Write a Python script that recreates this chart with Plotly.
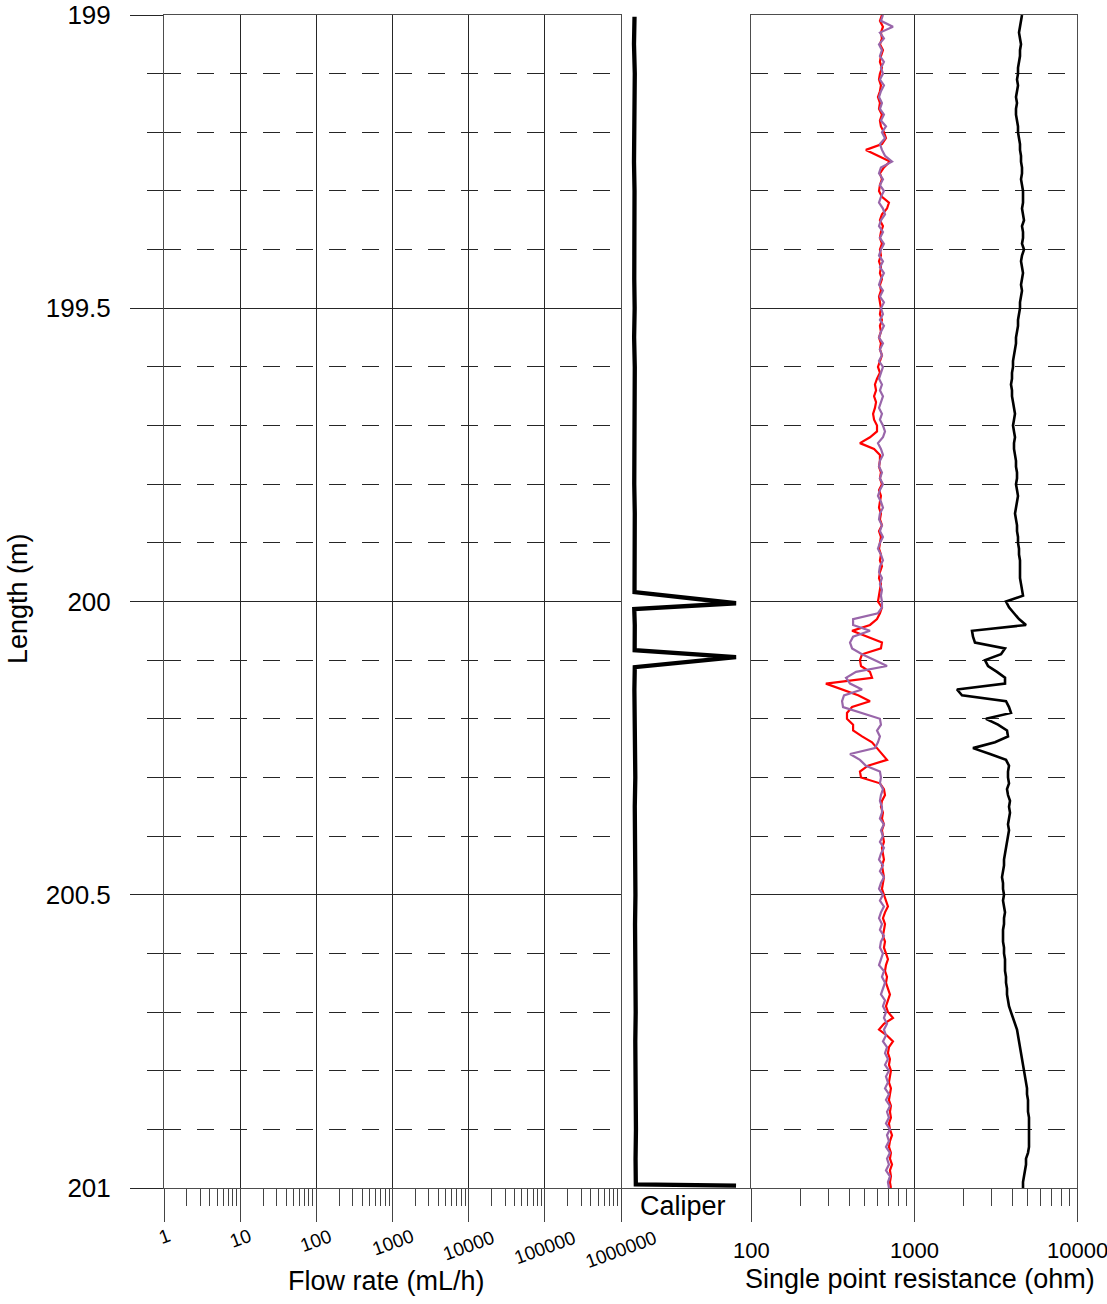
import numpy as np
import plotly.graph_objects as go

# ---------------------------------------------------------------
# Borehole log section 199-201 m: flow rate (empty track), caliper,
# and single point resistance (SPR) logs.
# ---------------------------------------------------------------

# SPR logs are sampled every 1 cm starting at 199.00 m
DEPTH_TOP = 199.0
DEPTH_STEP = 0.01

# Single point resistance, red run (ohm)
spr_red = [
    636, 618, 645, 627, 636, 618, 645, 627, 618, 636,
    618, 610, 627, 618, 601, 618, 610, 636, 618, 627,
    654, 673, 636, 507, 601, 712, 654, 618, 636, 618,
    610, 636, 702, 683, 636, 618, 645, 627, 618, 636,
    618, 627, 610, 627, 618, 636, 618, 627, 610, 618,
    627,
    618, 636, 618, 627, 610, 627, 618, 636, 618, 601,
    618, 593, 576, 585, 569, 585, 576, 561, 569, 593,
    593, 537, 466, 569, 618, 618, 610, 627, 618, 636,
    610, 627, 618, 610, 627, 618, 636, 610, 627, 618,
    610, 627, 618, 636, 618, 610, 627, 618, 610,
    601, 636, 618, 593, 537, 417, 522, 636, 627, 480,
    466, 473, 537, 553, 288, 367, 454, 537, 417, 388,
    388, 423, 423, 480, 553, 593, 636, 683, 522, 466,
    473, 618, 654, 664, 636, 627,
    645, 636, 654, 636, 645, 654, 636, 645, 654, 636,
    645, 654, 645, 636, 654, 673, 692, 664, 645, 664,
    654, 645, 664, 654, 673, 692, 673, 664, 683, 673,
    692, 712, 692, 673, 692, 743, 654, 610, 683, 743,
    702, 692, 712, 702, 722, 712, 702, 722, 712, 702,
    722, 712, 722, 702, 712, 733, 712, 702, 722, 712,
    733, 712, 722, 712, 722,
]

# Single point resistance, purple run (ohm)
spr_purple = [
    645, 627, 743, 618, 654, 610, 636, 618, 654, 627,
    645, 618, 654, 627, 610, 636, 618, 654, 627, 673,
    636, 664, 618, 636, 664, 733, 627, 610, 645, 618,
    654, 627, 610, 645, 664, 627, 610, 645, 618, 654,
    627, 610, 645, 618, 654, 627, 610, 645, 618, 654,
    627,
    645, 618, 654, 627, 610, 645, 618, 636, 610, 645,
    627, 610, 636, 618, 645, 627, 610, 636, 618, 645,
    664, 645, 601, 627, 645, 618, 610, 636, 618, 645,
    618, 601, 627, 645, 618, 610, 636, 618, 645, 618,
    601, 627, 645, 618, 610, 636, 618, 636, 627,
    636, 636, 601, 423, 423, 537, 423, 405, 417, 480,
    576, 683, 441, 383, 405, 480, 372, 362, 367, 480,
    618, 627, 593, 618, 601, 576, 405, 466, 507, 618,
    627, 618, 645, 627, 618, 636,
    636, 618, 654, 627, 645, 618, 654, 627, 610, 645,
    618, 654, 627, 610, 645, 618, 654, 627, 610, 636,
    618, 654, 627, 618, 645, 627, 610, 654, 636, 664,
    645, 627, 664, 645, 673, 654, 683, 654, 673, 645,
    683, 664, 692, 664, 702, 673, 692, 664, 702, 673,
    712, 683, 702, 673, 712, 683, 702, 673, 712, 683,
    702, 673, 712, 692, 702,
]

# Single point resistance, black run (ohm)
spr_black = [
    4598, 4534, 4470, 4407, 4470, 4534, 4470, 4470, 4407, 4346,
    4346, 4285, 4346, 4285, 4224, 4285, 4224, 4224, 4285, 4346,
    4346, 4407, 4470, 4470, 4534, 4534, 4598, 4598, 4534, 4598,
    4664, 4664, 4664, 4598, 4664, 4730, 4598, 4664, 4664, 4598,
    4730, 4598, 4534, 4598, 4664, 4598, 4534, 4598, 4534, 4470,
    4470, 4407, 4346, 4346, 4285, 4224, 4224, 4165, 4107, 4049,
    4049, 3992, 3992, 3936, 3992, 3992, 4049, 4107, 4165, 4107,
    4049, 4107, 4165, 4107, 4107, 4165, 4224, 4224, 4285, 4285,
    4224, 4285, 4346, 4285, 4224, 4165, 4224, 4285, 4285, 4346,
    4346, 4407, 4407, 4470, 4470, 4470,
    4470, 4534, 4598, 4664, 3668, 3827, 4107, 4407, 4866, 2269,
    2301, 2367, 3617, 3418, 2727, 2846, 3230, 3617, 3617, 1836,
    1970, 3668, 3827, 3936, 2766, 3276, 3720, 3773, 3140, 2301,
    2927, 3668, 3827, 3773, 3773, 3827, 3720, 3773, 3881, 3827,
    3881, 3827, 3773, 3827, 3773, 3720, 3668, 3617, 3566, 3566,
    3516, 3467, 3516, 3516, 3566, 3516, 3566, 3617, 3566, 3566,
    3516, 3516, 3516, 3566, 3566, 3617, 3617, 3617, 3668, 3668,
    3720, 3720, 3773, 3827, 3936, 4049, 4165, 4285, 4346, 4407,
    4470, 4534, 4598, 4664, 4730, 4797, 4866, 4935, 4935, 5005,
    5005, 5005, 5076, 5076, 5076, 5076, 5076, 5076, 5005, 4866,
    4866, 4797, 4730, 4664, 4664,
]

depth = np.round(DEPTH_TOP + DEPTH_STEP * np.arange(len(spr_red)), 3)

# Caliper log (relative track units 0-100)
caliper_depth = [
    199.003, 199.05, 199.10, 199.15, 199.20, 199.25, 199.30, 199.35,
    199.40, 199.45, 199.50, 199.55, 199.60, 199.65, 199.70, 199.75,
    199.80, 199.85, 199.90, 199.95, 199.984, 200.003, 200.013, 200.04,
    200.06, 200.083, 200.095, 200.112, 200.15, 200.20, 200.25, 200.30,
    200.35, 200.40, 200.45, 200.50, 200.55, 200.60, 200.65, 200.70,
    200.75, 200.80, 200.85, 200.90, 200.95, 200.994, 200.996,
]
caliper_value = [
    10.4, 10.0, 10.6, 10.2, 10.5, 10.0, 10.4, 10.1,
    10.6, 10.2, 10.5, 10.1, 10.6, 10.3, 10.0, 10.5,
    10.2, 10.6, 10.3, 10.5, 10.4, 88.5, 10.2, 10.6,
    10.3, 10.5, 88.5, 10.6, 10.3, 10.8, 10.5, 11.0,
    10.6, 11.0, 10.7, 11.1, 10.8, 11.2, 10.9, 11.3,
    11.0, 11.4, 11.1, 11.5, 11.2, 11.4, 88.5,
]

# Axis ticks
depth_ticks = [199, 199.5, 200, 200.5, 201]
depth_ticktext = ["199", "199.5", "200", "200.5", "201"]
flow_ticks = [1, 10, 100, 1000, 10000, 100000, 1000000]
flow_ticktext = ["1", "10", "100", "1000", "10000", "100000", "1000000"]
spr_ticks = [100, 1000, 10000]
spr_ticktext = ["100", "1000", "10000"]

# ---------------------------------------------------------------
# Page geometry (pixels)
W, H = 1107, 1304
ML, MR, MT, MB = 164, 30, 15, 116
PW = W - ML - MR
PH = H - MT - MB


def fx(px):
    return (px - ML) / PW


def fy(py):
    return (H - MB - py) / PH


FONT = "Arial, 'Liberation Sans', sans-serif"
GRID = "#262626"
LINE = "#4d4d4d"
TICK = "#444444"

flow_minor = [k * 10 ** d for d in range(0, 6) for k in range(2, 10)]
spr_minor = [k * 10 ** d for d in range(2, 4) for k in range(2, 10)]

fig = go.Figure()

fig.add_trace(go.Scatter(
    x=caliper_value, y=caliper_depth, xaxis="x2", yaxis="y2",
    mode="lines", line=dict(color="black", width=4.3), showlegend=False,
))
fig.add_trace(go.Scatter(
    x=spr_red, y=depth, xaxis="x3", yaxis="y3",
    mode="lines", line=dict(color="#ff0000", width=2.2), showlegend=False,
))
fig.add_trace(go.Scatter(
    x=spr_purple, y=depth, xaxis="x3", yaxis="y3",
    mode="lines", line=dict(color="#9966aa", width=2.2), showlegend=False,
))
fig.add_trace(go.Scatter(
    x=spr_black, y=depth, xaxis="x3", yaxis="y3",
    mode="lines", line=dict(color="black", width=2.6), showlegend=False,
))

minor_grid = dict(
    dtick=0.1, tick0=199, showgrid=True, gridcolor=GRID, gridwidth=1,
    griddash="17px,16px",
)

fig.update_layout(
    width=W, height=H,
    margin=dict(l=ML, r=MR, t=MT, b=MB, pad=0, autoexpand=False),
    paper_bgcolor="white", plot_bgcolor="white",
    font=dict(family=FONT, color="black"),
    showlegend=False,
    xaxis=dict(
        type="log", range=[0, 6], domain=[0, fx(621)], anchor="y",
        automargin=False,
        showgrid=True, gridcolor=GRID, gridwidth=1, zeroline=False,
        showline=True, linecolor=LINE, linewidth=1, mirror=True,
        ticks="outside", ticklen=33, tickwidth=1, tickcolor=TICK,
        tickvals=flow_ticks, showticklabels=False,
        minor=dict(tickvals=flow_minor, ticks="outside", ticklen=17,
                   tickwidth=1, tickcolor=TICK, showgrid=False),
    ),
    xaxis2=dict(
        range=[0, 100], domain=[fx(621), fx(751)], anchor="y2",
        automargin=False,
        showgrid=False, zeroline=False, showline=True, linecolor=LINE,
        linewidth=1, ticks="", showticklabels=False,
    ),
    xaxis3=dict(
        type="log", range=[2, 4], domain=[fx(751), 1], anchor="y3",
        automargin=False,
        showgrid=True, gridcolor=GRID, gridwidth=1, zeroline=False,
        showline=True, linecolor=LINE, linewidth=1, mirror=True,
        ticks="outside", ticklen=33, tickwidth=1, tickcolor=TICK,
        tickvals=spr_ticks, showticklabels=False,
        minor=dict(tickvals=spr_minor, ticks="outside", ticklen=17,
                   tickwidth=1, tickcolor=TICK, showgrid=False),
    ),
    yaxis=dict(
        range=[201, 199], domain=[0, 1], anchor="x",
        automargin=False,
        showgrid=True, gridcolor=GRID, gridwidth=1, zeroline=False,
        showline=True, linecolor=LINE, linewidth=1, mirror=True,
        ticks="outside", ticklen=33, tickwidth=1, tickcolor=GRID,
        tickvals=depth_ticks, ticktext=depth_ticktext,
        tickfont=dict(size=26, family=FONT, color="black"),
        ticklabelstandoff=14,
        minor=dict(ticks="outside", ticklen=16, tickwidth=1,
                   tickcolor=GRID, **minor_grid),
    ),
    yaxis2=dict(
        matches="y", anchor="x2", domain=[0, 1], automargin=False,
        showgrid=False, zeroline=False, showline=False,
        ticks="", showticklabels=False,
    ),
    yaxis3=dict(
        matches="y", anchor="x3", domain=[0, 1], automargin=False,
        showgrid=True, gridcolor=GRID, gridwidth=1, zeroline=False,
        showline=True, linecolor=LINE, linewidth=1, mirror=True,
        ticks="", showticklabels=False, tickvals=depth_ticks,
        minor=dict(ticks="", **minor_grid),
    ),
)

annotations = []
# Rotated flow-rate tick labels
for v, t in zip(flow_ticks, flow_ticktext):
    annotations.append(dict(
        x=np.log10(v), xref="x", y=fy(1234 + 2.2 * len(t)), yref="paper",
        text=t, showarrow=False, textangle=-20,
        xanchor="center", yanchor="middle",
        font=dict(size=19, family=FONT, color="black"),
    ))

# Resistance tick labels
for v, t in zip(spr_ticks, spr_ticktext):
    annotations.append(dict(
        x=np.log10(v), xref="x3", y=fy(1250), yref="paper",
        text=t, showarrow=False,
        xanchor="center", yanchor="middle",
        font=dict(size=22, family=FONT, color="black"),
    ))

annotations += [
    dict(x=fx(386), y=fy(1281), xref="paper", yref="paper",
         text="Flow rate (mL/h)", showarrow=False,
         xanchor="center", yanchor="middle",
         font=dict(size=27, family=FONT, color="black")),
    dict(x=fx(920), y=fy(1279), xref="paper", yref="paper",
         text="Single point resistance (ohm)", showarrow=False,
         xanchor="center", yanchor="middle",
         font=dict(size=27, family=FONT, color="black")),
    dict(x=fx(683), y=fy(1206), xref="paper", yref="paper",
         text="Caliper", showarrow=False,
         xanchor="center", yanchor="middle",
         font=dict(size=27, family=FONT, color="black")),
    dict(x=fx(18), y=fy(599), xref="paper", yref="paper",
         text="Length (m)", showarrow=False, textangle=-90,
         xanchor="center", yanchor="middle",
         font=dict(size=27, family=FONT, color="black")),
]
fig.update_layout(annotations=annotations)

fig.write_html("out.html")
